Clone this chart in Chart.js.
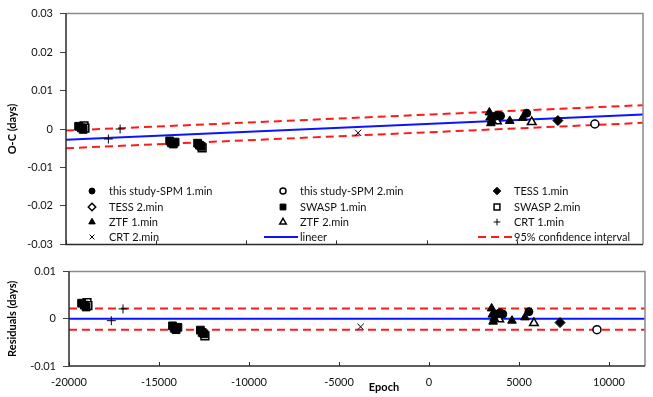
<!DOCTYPE html>
<html>
<head>
<meta charset="utf-8">
<script src="https://cdn.jsdelivr.net/npm/chart.js@4.4.0/dist/chart.umd.min.js"></script>
<style>
body{margin:0;background:#fff;}
#wrap{position:relative;width:653px;height:397px;overflow:hidden;}
#ocChart{position:absolute;left:0;top:0;}
#resChart{position:absolute;left:0;top:258px;}
</style>
</head>
<body>
<div id="wrap">
<canvas id="ocChart" width="653" height="258"></canvas>
<canvas id="resChart" width="653" height="139"></canvas>
</div>
<script>
// tick labels
var epochTicks = [-20000, -15000, -10000, -5000, 0, 5000, 10000];
var ocTicks = [0.03, 0.02, 0.01, 0, -0.01, -0.02, -0.03];
var resTicks = [0.01, 0, -0.01];

// minima: epoch, O-C and residual
var spm1Epoch = [3800, 3950, 4100, 5550];
var spm1OC    = [0.0033, 0.0036, 0.0034, 0.0041];
var spm1Res   = [0.0010, 0.0013, 0.0010, 0.0015];

var spm2Epoch = [9330];
var spm2OC    = [0.0013];
var spm2Res   = [-0.0023];

var tess1Epoch = [7280];
var tess1OC    = [0.0022];
var tess1Res   = [-0.0008];

var tess2Epoch = [];
var tess2OC    = [];
var tess2Res   = [];

var swasp1Epoch = [-19300, -19150, -19050, -14250, -14150, -14050, -13950, -12700, -12600, -12500];
var swasp1OC    = [0.0007, 0.0003, -0.0001, -0.0031, -0.0036, -0.0039, -0.0034, -0.0037, -0.0042, -0.0045];
var swasp1Res   = [0.0033, 0.0029, 0.0025, -0.0015, -0.0020, -0.0023, -0.0018, -0.0024, -0.0029, -0.0032];

var swasp2Epoch = [-19000, -18950, -12450];
var swasp2OC    = [0.0008, 0.0002, -0.0049];
var swasp2Res   = [0.0034, 0.0028, -0.0036];

var ztf1Epoch = [3480, 3520, 3560, 3620, 4610, 5330];
var ztf1OC    = [0.0043, 0.0030, 0.0015, 0.0022, 0.0021, 0.0029];
var ztf1Res   = [0.0022, 0.0009, -0.0006, 0.0001, -0.0004, 0.0003];

var ztf2Epoch = [3900, 5830];
var ztf2OC    = [0.0020, 0.0018];
var ztf2Res   = [-0.0001, -0.0009];

var crt1Epoch = [-17000, -17650];
var crt1OC    = [0.0000, -0.0026];
var crt1Res   = [0.0021, -0.0004];

var crt2Epoch = [-3800];
var crt2OC    = [-0.0010];
var crt2Res   = [-0.0017];

// linear fit and 95% band
var fitEpoch = [-20000, 12000];
var fitOC    = [-0.0028, 0.0038];
var upperOC  = [-0.0004, 0.0062];
var lowerOC  = [-0.0050, 0.0016];
var fitRes   = [0, 0];
var upperRes = [0.0022, 0.0022];
var lowerRes = [-0.0023, -0.0023];

var FONT = 'Lato';
var BLUE = '#0a14ff';
var RED = '#ff1a1a';

function pts(xs, ys) {
  return xs.map(function (x, i) { return {x: x, y: ys[i]}; });
}

var series = [
  {label: 'this study-SPM 1.min', style: 'circle', open: false, r: 4, e: spm1Epoch, oc: spm1OC, res: spm1Res},
  {label: 'this study-SPM 2.min', style: 'circle', open: true, r: 4, e: spm2Epoch, oc: spm2OC, res: spm2Res},
  {label: 'TESS 1.min', style: 'rectRot', open: false, r: 5, e: tess1Epoch, oc: tess1OC, res: tess1Res},
  {label: 'TESS 2.min', style: 'rectRot', open: true, r: 5, e: tess2Epoch, oc: tess2OC, res: tess2Res},
  {label: 'SWASP 1.min', style: 'rect', open: false, r: 5.5, e: swasp1Epoch, oc: swasp1OC, res: swasp1Res},
  {label: 'SWASP 2.min', style: 'rect', open: true, r: 5.5, e: swasp2Epoch, oc: swasp2OC, res: swasp2Res},
  {label: 'ZTF 1.min', style: 'triangle', open: false, r: 5, e: ztf1Epoch, oc: ztf1OC, res: ztf1Res},
  {label: 'ZTF 2.min', style: 'triangle', open: true, r: 5, e: ztf2Epoch, oc: ztf2OC, res: ztf2Res},
  {label: 'CRT 1.min', style: 'cross', open: false, r: 4.5, e: crt1Epoch, oc: crt1OC, res: crt1Res},
  {label: 'CRT 2.min', style: 'crossRot', open: false, r: 4.5, e: crt2Epoch, oc: crt2OC, res: crt2Res}
];

function buildDatasets(key, fitY, upY, loY) {
  var ds = series.map(function (s) {
    return {
      label: s.label,
      data: pts(s.e, s[key]),
      pointStyle: s.style,
      pointRadius: s.r,
      pointHoverRadius: s.r,
      backgroundColor: s.open ? '#fff' : '#000',
      borderColor: '#000',
      borderWidth: s.open ? 1.5 : 1,
      showLine: false,
      order: 1
    };
  });
  ds.push({label: 'lineer', data: pts(fitEpoch, fitY), showLine: true, pointRadius: 0,
    borderColor: BLUE, borderWidth: 2, isLine: true, order: 2});
  ds.push({label: '95% confidence interval', data: pts(fitEpoch, upY), showLine: true, pointRadius: 0,
    borderColor: RED, borderWidth: 2, borderDash: [8, 5], isLine: true, order: 3});
  ds.push({label: '', data: pts(fitEpoch, loY), showLine: true, pointRadius: 0,
    borderColor: RED, borderWidth: 2, borderDash: [8, 5], noLegend: true, order: 3});
  return ds;
}

function fmt(v) {
  if (Math.abs(v) < 1e-9) return '0';
  return String(+v.toFixed(2));
}

var framePlugin = {
  id: 'frame',
  afterDatasetsDraw: function (chart) {
    var ctx = chart.ctx, a = chart.chartArea, x = chart.scales.x;
    ctx.save();
    ctx.lineWidth = 1.5;
    ctx.strokeStyle = '#8a8a8a';
    ctx.beginPath();
    ctx.moveTo(a.left, a.top); ctx.lineTo(a.right, a.top); ctx.lineTo(a.right, a.bottom);
    ctx.stroke();
    ctx.strokeStyle = '#2b2b2b';
    ctx.beginPath();
    ctx.moveTo(a.left, a.top); ctx.lineTo(a.left, a.bottom); ctx.lineTo(a.right, a.bottom);
    ctx.stroke();
    ctx.lineWidth = 1;
    epochTicks.forEach(function (v) {
      var px = Math.round(x.getPixelForValue(v)) + 0.5;
      ctx.beginPath(); ctx.moveTo(px, a.bottom); ctx.lineTo(px, a.bottom - 4); ctx.stroke();
    });
    ctx.restore();
  }
};

var legendMarkX = [92, 283, 497];
var legendRowY = [191, 207, 222, 237];

var legendPlugin = {
  id: 'gridLegend',
  afterDraw: function (chart) {
    var ctx = chart.ctx;
    var items = chart.data.datasets.filter(function (d) { return !d.noLegend; });
    ctx.save();
    ctx.font = '11px ' + FONT;
    ctx.textBaseline = 'middle';
    items.forEach(function (d, i) {
      var mx = legendMarkX[i % 3], my = legendRowY[Math.floor(i / 3)];
      var tx = mx + 17;
      if (d.isLine) {
        ctx.strokeStyle = d.borderColor;
        ctx.lineWidth = 2;
        ctx.setLineDash(d.borderDash || []);
        ctx.beginPath(); ctx.moveTo(tx - 36, my); ctx.lineTo(tx - 2, my); ctx.stroke();
        ctx.setLineDash([]);
      } else {
        ctx.fillStyle = d.backgroundColor;
        ctx.strokeStyle = d.borderColor;
        ctx.lineWidth = d.borderWidth;
        Chart.helpers.drawPoint(ctx, {pointStyle: d.pointStyle, radius: d.pointRadius * 0.75,
          rotation: 0, borderWidth: d.borderWidth}, mx, my);
      }
      ctx.fillStyle = '#111';
      ctx.fillText(d.label, tx, my);
    });
    ctx.restore();
  }
};

var epochLabelPlugin = {
  id: 'epochLabel',
  afterDraw: function (chart) {
    var ctx = chart.ctx;
    ctx.save();
    ctx.font = 'bold 11px ' + FONT;
    ctx.fillStyle = '#000';
    ctx.textAlign = 'center';
    ctx.textBaseline = 'middle';
    ctx.fillText('Epoch', chart.scales.x.getPixelForValue(-2500), 129);
    ctx.restore();
  }
};

function yAxis(ticksArr, min, max, title, width) {
  return {
    type: 'linear', min: min, max: max,
    afterBuildTicks: function (s) { s.ticks = ticksArr.map(function (v) { return {value: v}; }); },
    afterFit: function (s) { s.width = width; },
    ticks: {font: {family: FONT, size: 11}, color: '#111', padding: 7, callback: fmt},
    grid: {drawOnChartArea: false, drawTicks: true, tickLength: 6, color: '#444'},
    border: {display: false},
    title: {display: true, text: title, color: '#000', font: {family: FONT, size: 11, weight: 'bold'},
      padding: {top: 6, bottom: 0}}
  };
}

new Chart(document.getElementById('ocChart'), {
  type: 'scatter',
  data: {datasets: buildDatasets('oc', fitOC, upperOC, lowerOC)},
  options: {
    responsive: false, animation: false,
    layout: {padding: {left: 0, top: 12, right: 10, bottom: 12}},
    plugins: {legend: {display: false}, tooltip: {enabled: false}},
    scales: {
      x: {
        type: 'linear', min: -20000, max: 12000,
        afterBuildTicks: function (s) { s.ticks = epochTicks.map(function (v) { return {value: v}; }); },
        afterFit: function (s) { s.height = 0; },
        ticks: {display: false},
        grid: {drawOnChartArea: false, drawTicks: false},
        border: {display: false}
      },
      y: yAxis(ocTicks, -0.03, 0.03, 'O-C (days)', 66)
    }
  },
  plugins: [framePlugin, legendPlugin]
});

new Chart(document.getElementById('resChart'), {
  type: 'scatter',
  data: {datasets: buildDatasets('res', fitRes, upperRes, lowerRes)},
  options: {
    responsive: false, animation: false,
    layout: {padding: {left: 0, top: 13, right: 8, bottom: 0}},
    plugins: {legend: {display: false}, tooltip: {enabled: false}},
    scales: {
      x: {
        type: 'linear', min: -20000, max: 12000,
        afterBuildTicks: function (s) { s.ticks = epochTicks.map(function (v) { return {value: v}; }); },
        afterFit: function (s) { s.height = 31; },
        ticks: {font: {family: FONT, size: 11}, color: '#111', padding: 10, maxRotation: 0, autoSkip: false,
          callback: function (v) { return String(v); }},
        grid: {drawOnChartArea: false, drawTicks: false},
        border: {display: false}
      },
      y: yAxis(resTicks, -0.01, 0.01, 'Residuals (days)', 69)
    }
  },
  plugins: [framePlugin, epochLabelPlugin]
});
</script>
</body>
</html>
